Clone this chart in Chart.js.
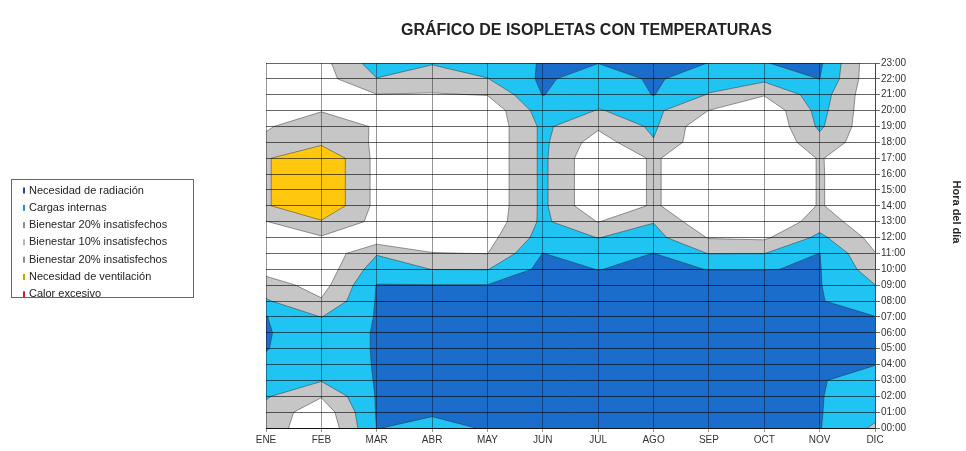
<!DOCTYPE html>
<html lang="es">
<head>
<meta charset="utf-8">
<title>Gráfico de isopletas con temperaturas</title>
<script src="https://cdn.jsdelivr.net/npm/chart.js@4.4.1/dist/chart.umd.min.js"></script>
<style>
  html, body { margin: 0; padding: 0; background: #fff; }
</style>
</head>
<body>
<canvas id="isopletas" width="966" height="451"></canvas>
<script>
// meses (eje X) y horas del día (eje Y)
const meses = ['ENE', 'FEB', 'MAR', 'ABR', 'MAY', 'JUN', 'JUL', 'AGO', 'SEP', 'OCT', 'NOV', 'DIC'];
const horas = ['00:00', '01:00', '02:00', '03:00', '04:00', '05:00', '06:00', '07:00', '08:00', '09:00', '10:00', '11:00',
               '12:00', '13:00', '14:00', '15:00', '16:00', '17:00', '18:00', '19:00', '20:00', '21:00', '22:00', '23:00'];

// temperatura horaria de cada mes (°C), de 00:00 a 23:00
const ene = [16.0, 16.0, 14.7, 13.8, 12.4, 11.9, 11.8, 11.9, 14.7, 16.6, 19.1, 19.8, 20.3, 20.9, 23.7, 23.7, 23.7, 23.7, 21.4, 20.8, 20.2, 19.8, 19.6, 19.5];
const feb = [20.9, 20.0, 17.8, 14.8, 13.8, 13.5, 13.5, 15.05, 17.7, 19.2, 20.0, 20.3, 20.7, 23.7, 26.9, 26.9, 26.9, 26.9, 23.3, 22.2, 20.9, 19.5, 19.2, 19.0];
const mar = [11.95, 11.8, 11.8, 11.8, 11.8, 11.8, 11.8, 11.8, 11.8, 11.9, 13.5, 15.2, 20.0, 20.2, 20.2, 20.2, 20.2, 20.2, 20.6, 20.8, 20.2, 18.1, 15.1, 13.5];
const abr = [12.5, 11.8, 10.5, 10.2, 10.0, 10.0, 10.0, 10.2, 10.8, 11.9, 15.05, 17.9, 19.5, 20.5, 20.5, 20.5, 20.5, 20.5, 20.5, 20.5, 20.4, 18.2, 16.5, 14.8];
const may = [11.87, 11.0, 10.5, 10.2, 10.0, 10.0, 10.0, 10.2, 10.8, 11.9, 15.1, 18.05, 19.0, 20.0, 20.3, 20.3, 20.3, 20.3, 20.3, 20.3, 20.2, 17.9, 15.1, 13.5];
const jun = [10.0, 10.0, 10.0, 10.0, 10.0, 10.0, 10.0, 10.0, 10.2, 10.8, 11.2, 11.95, 13.8, 14.4, 14.4, 14.4, 14.4, 14.4, 14.4, 14.4, 13.5, 11.9, 11.5, 11.8];
const jul = [10.0, 10.0, 10.0, 10.0, 10.0, 10.0, 10.0, 10.0, 10.3, 10.9, 12.05, 13.5, 15.05, 18.1, 20.7, 20.7, 20.7, 20.7, 19.5, 17.5, 15.1, 14.2, 13.5, 11.95];
const ago = [10.0, 10.0, 10.0, 10.0, 10.0, 10.0, 10.0, 10.0, 10.3, 10.9, 11.5, 11.95, 14.0, 15.1, 17.6, 17.6, 17.6, 17.6, 15.2, 14.5, 14.3, 11.9, 11.6, 10.5];
const sep = [10.0, 10.0, 10.0, 10.0, 10.0, 10.0, 10.0, 10.0, 10.3, 10.9, 12.05, 15.1, 18.2, 20.5, 20.5, 20.5, 20.5, 20.5, 20.5, 20.5, 18.05, 15.2, 13.5, 12.05];
const oct = [10.0, 10.0, 10.0, 10.0, 10.0, 10.0, 10.0, 10.0, 10.3, 10.9, 12.05, 15.05, 18.5, 20.9, 20.9, 20.9, 20.9, 20.9, 20.9, 20.9, 20.5, 17.8, 14.3, 12.05];
const nov = [11.87, 11.87, 11.87, 11.87, 10.5, 10.5, 10.5, 10.5, 11.87, 11.87, 11.87, 11.95, 14.3, 16.5, 17.8, 17.8, 17.8, 17.8, 16.0, 14.5, 14.0, 13.5, 11.95, 11.5];
const dic = [15.5, 14.0, 13.5, 12.8, 11.95, 11.5, 11.5, 11.95, 13.2, 14.95, 16.5, 17.9, 19.0, 20.0, 20.0, 20.0, 20.0, 20.3, 20.3, 20.5, 20.5, 20.5, 20.5, 20.5];
const temperaturas = [ene, feb, mar, abr, may, jun, jul, ago, sep, oct, nov, dic];

// límites entre zonas (°C) y color de cada zona, de la más fría a la más cálida
const umbrales = [12, 15, 18, 21, 24, 27];
const coloresZona = ['#1b6dcc', '#1fc4f2', '#c6c6c6', '#ffffff', '#c6c6c6', '#ffc80f', '#e0261e'];

const leyendaTextos = ['Necesidad de radiación', 'Cargas internas', 'Bienestar 20% insatisfechos', 'Bienestar 10% insatisfechos',
                       'Bienestar 20% insatisfechos', 'Necesidad de ventilación', 'Calor excesivo'];
const leyendaColores = ['#1b4c9c', '#1f8fe0', '#8c8c8c', '#b4b4b4', '#8c8c8c', '#c9a400', '#cc2222'];

// recorta una celda (polígono con valores en los vértices) a la parte con valor >= t
function recortar(pts, t) {
    const out = [];
    for (let n = 0; n < pts.length; n++) {
        const a = pts[n], b = pts[(n + 1) % pts.length];
        const ina = a.v >= t, inb = b.v >= t;
        if (ina) out.push(a);
        if (ina !== inb) {
            const f = (t - a.v) / (b.v - a.v);
            out.push({ x: a.x + f * (b.x - a.x), y: a.y + f * (b.y - a.y), v: t, c: true });
        }
    }
    return out;
}

// pinta las zonas de temperatura usando las escalas del gráfico
const zonasPlugin = {
    id: 'zonas',
    beforeDatasetsDraw(chart) {
        const { ctx, chartArea: a, scales: { x, y } } = chart;
        const datos = chart.data.datasets[0].data;
        const ny = horas.length;
        const punto = (i, h) => {
            const d = datos[i * ny + h];
            return { x: x.getPixelForValue(d.x), y: y.getPixelForValue(d.y), v: d.t };
        };
        ctx.save();
        ctx.beginPath();
        ctx.rect(a.left, a.top, a.right - a.left, a.bottom - a.top);
        ctx.clip();
        ctx.fillStyle = coloresZona[0];
        ctx.fillRect(a.left, a.top, a.right - a.left, a.bottom - a.top);

        const lineas = [];
        umbrales.forEach((t, k) => {
            ctx.beginPath();
            for (let i = 0; i < meses.length - 1; i++) {
                for (let h = 0; h < ny - 1; h++) {
                    const celda = [punto(i, h), punto(i + 1, h), punto(i + 1, h + 1), punto(i, h + 1)];
                    const poly = recortar(celda, t);
                    if (poly.length < 3) continue;
                    ctx.moveTo(poly[0].x, poly[0].y);
                    for (let n = 1; n < poly.length; n++) ctx.lineTo(poly[n].x, poly[n].y);
                    ctx.closePath();
                    for (let n = 0; n < poly.length; n++) {
                        const p = poly[n], q = poly[(n + 1) % poly.length];
                        if (p.c && q.c) lineas.push([p, q]);
                    }
                }
            }
            ctx.fillStyle = coloresZona[k + 1];
            ctx.fill();
        });

        // bordes de las isopletas
        ctx.beginPath();
        lineas.forEach(([p, q]) => { ctx.moveTo(p.x, p.y); ctx.lineTo(q.x, q.y); });
        ctx.strokeStyle = 'rgba(45,45,45,0.6)';
        ctx.lineWidth = 0.8;
        ctx.stroke();
        ctx.restore();
    }
};

// leyenda recuadrada a la izquierda y título del eje derecho
const rotulosPlugin = {
    id: 'rotulos',
    afterDraw(chart) {
        const ctx = chart.ctx;
        const caja = { x: 11.5, y: 179.5, w: 182, h: 118 };
        ctx.save();
        ctx.fillStyle = '#fff';
        ctx.fillRect(caja.x, caja.y, caja.w, caja.h);
        ctx.beginPath();
        ctx.rect(caja.x, caja.y, caja.w, caja.h);
        ctx.clip();
        ctx.font = '11px "Liberation Sans", Arial, sans-serif';
        ctx.textBaseline = 'middle';
        leyendaTextos.forEach((txt, n) => {
            const yy = caja.y + 11 + n * 17.3;
            ctx.fillStyle = leyendaColores[n];
            ctx.fillRect(23, yy - 3, 2, 6);
            ctx.fillStyle = '#222';
            ctx.fillText(txt, 29, yy);
        });
        ctx.restore();

        ctx.save();
        ctx.strokeStyle = '#666';
        ctx.lineWidth = 1;
        ctx.strokeRect(caja.x, caja.y, caja.w, caja.h);

        ctx.translate(956, 212);
        ctx.rotate(Math.PI / 2);
        ctx.font = 'bold 11px "Liberation Sans", Arial, sans-serif';
        ctx.fillStyle = '#222';
        ctx.textAlign = 'center';
        ctx.textBaseline = 'middle';
        ctx.fillText('Hora del día', 0, 0);
        ctx.restore();
    }
};

const puntos = [];
temperaturas.forEach((serie, i) => serie.forEach((t, h) => puntos.push({ x: i, y: h, t })));

new Chart(document.getElementById('isopletas'), {
    type: 'scatter',
    data: {
        datasets: [{
            label: 'Temperatura',
            data: puntos,
            pointRadius: 0,
            pointHoverRadius: 0
        }]
    },
    plugins: [zonasPlugin, rotulosPlugin],
    options: {
        responsive: false,
        animation: false,
        events: [],
        layout: { padding: { left: 266, right: 59, top: 10, bottom: 3 } },
        scales: {
            x: {
                type: 'linear',
                min: 0,
                max: meses.length - 1,
                afterFit: (s) => { s.height = 20; },
                grid: { color: 'rgba(0,0,0,0.4)', lineWidth: 1, tickLength: 4, z: 1 },
                border: { color: '#333', z: 1 },
                ticks: {
                    stepSize: 1,
                    autoSkip: false,
                    maxRotation: 0,
                    padding: 2,
                    color: '#333',
                    font: { family: '"Liberation Sans", Arial, sans-serif', size: 10 },
                    callback: (v) => meses[v]
                }
            },
            y: {
                type: 'linear',
                position: 'right',
                min: 0,
                max: horas.length - 1,
                afterFit: (s) => { s.width = 32; },
                grid: { color: 'rgba(0,0,0,0.6)', lineWidth: 1, tickLength: 5, z: 1 },
                border: { color: '#444', z: 1 },
                ticks: {
                    stepSize: 1,
                    autoSkip: false,
                    padding: 1,
                    color: '#333',
                    font: { family: '"Liberation Sans", Arial, sans-serif', size: 10 },
                    callback: (v) => horas[v]
                }
            }
        },
        plugins: {
            legend: { display: false },
            tooltip: { enabled: false },
            title: {
                display: true,
                text: 'GRÁFICO DE ISOPLETAS CON TEMPERATURAS',
                color: '#222',
                font: { family: '"Liberation Sans", Arial, sans-serif', size: 16, weight: 'bold', lineHeight: 1.2 },
                padding: { top: 11, bottom: 22.8 }
            }
        }
    }
});
</script>
</body>
</html>
